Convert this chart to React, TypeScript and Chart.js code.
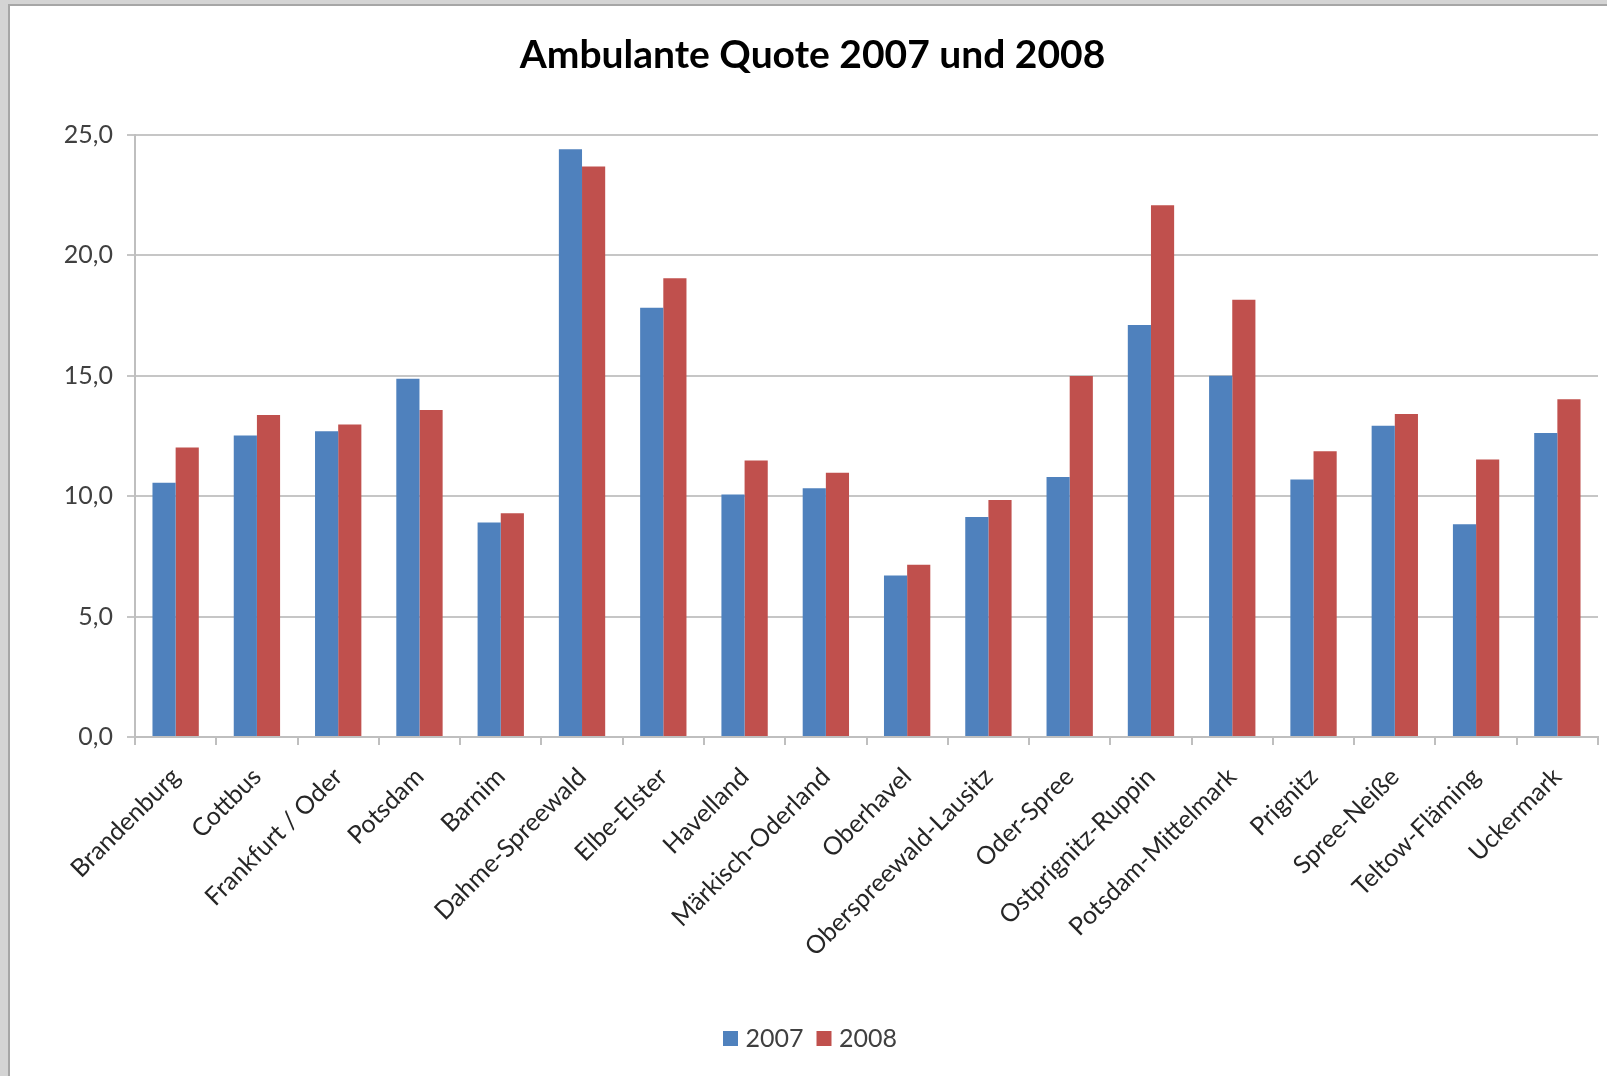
import React, { useEffect, useRef } from "react";
import { Chart, registerables } from "chart.js";

Chart.register(...registerables);

const categories = [
  "Brandenburg",
  "Cottbus",
  "Frankfurt / Oder",
  "Potsdam",
  "Barnim",
  "Dahme-Spreewald",
  "Elbe-Elster",
  "Havelland",
  "Märkisch-Oderland",
  "Oberhavel",
  "Oberspreewald-Lausitz",
  "Oder-Spree",
  "Ostprignitz-Ruppin",
  "Potsdam-Mittelmark",
  "Prignitz",
  "Spree-Neiße",
  "Teltow-Fläming",
  "Uckermark",
];

const values2007 = [10.56, 12.52, 12.69, 14.87, 8.9, 24.4, 17.82, 10.07, 10.33, 6.7, 9.13, 10.79, 17.1, 15.0, 10.69, 12.92, 8.83, 12.62];
const values2008 = [12.02, 13.37, 12.97, 13.58, 9.29, 23.68, 19.04, 11.48, 10.97, 7.15, 9.84, 14.99, 22.08, 18.15, 11.86, 13.41, 11.52, 14.02];

const seriesLabels = ["2007", "2008"];
const yTicks = { min: 0, max: 25, step: 5 };
const titleText = "Ambulante Quote 2007 und 2008";

export default function App() {
  const canvasRef = useRef<HTMLCanvasElement | null>(null);

  useEffect(() => {
    const canvas = canvasRef.current;
    if (!canvas) return;
    const chart = new Chart(canvas, {
      type: "bar",
      data: {
        labels: categories,
        datasets: [
          {
            label: seriesLabels[0],
            data: values2007,
            backgroundColor: "#4F81BD",
            borderWidth: 0,
          },
          {
            label: seriesLabels[1],
            data: values2008,
            backgroundColor: "#C0504D",
            borderWidth: 0,
          },
        ],
      },
      options: {
        animation: false,
        responsive: false,
        maintainAspectRatio: false,
        layout: { padding: { left: 16, right: 9, top: 0, bottom: 15 } },
        datasets: { bar: { categoryPercentage: 0.57, barPercentage: 1 } },
        plugins: {
          title: {
            display: true,
            text: titleText,
            color: "#000000",
            font: { family: "Lato", size: 39, weight: "bold" },
            padding: { top: 25, bottom: 56 },
          },
          legend: {
            display: true,
            position: "bottom",
            labels: {
              usePointStyle: true,
              pointStyle: "rect",
              boxWidth: 5,
              boxHeight: 15,
              padding: 18,
              color: "#404040",
              font: { family: "Lato", size: 25 },
            },
          },
          tooltip: { enabled: false },
        },
        scales: {
          x: {
            grid: {
              display: true,
              drawOnChartArea: false,
              drawTicks: true,
              tickLength: 8,
              color: "#bfbfbf",
              lineWidth: 2,
            },
            border: { display: true, color: "#bfbfbf", width: 2 },
            ticks: {
              maxRotation: 45,
              minRotation: 45,
              autoSkip: false,
              padding: 17,
              color: "#262626",
              font: { family: "Lato", size: 25 },
            },
            afterFit: (scale: any) => {
              scale.height = 271;
            },
          },
          y: {
            min: yTicks.min,
            max: yTicks.max,
            grid: {
              color: "#c6c6c6",
              lineWidth: 2,
              tickLength: 8,
              drawTicks: true,
            },
            border: { display: true, color: "#bfbfbf", width: 2 },
            ticks: {
              stepSize: yTicks.step,
              padding: 14,
              color: "#404040",
              font: { family: "Lato", size: 25 },
              callback: (v: any) => Number(v).toFixed(1).replace(".", ","),
            },
            afterFit: (scale: any) => {
              scale.width = 108;
            },
          },
        },
      },
    });
    return () => chart.destroy();
  }, []);

  return (
    <div
      style={{
        position: "fixed",
        left: 0,
        top: 0,
        width: 1607,
        height: 1076,
        background: "#d4d4d4",
        overflow: "hidden",
      }}
    >
      <div
        style={{
          position: "absolute",
          left: 8,
          top: 4,
          width: 1599,
          height: 1072,
          borderLeft: "2px solid #a6a6a6",
          borderTop: "2px solid #a6a6a6",
          background: "#ffffff",
          boxSizing: "border-box",
        }}
      >
        <canvas
          ref={canvasRef}
          width={1596}
          height={1069}
          style={{ position: "absolute", left: 1, top: 1, width: 1596, height: 1069 }}
        />
      </div>
    </div>
  );
}
